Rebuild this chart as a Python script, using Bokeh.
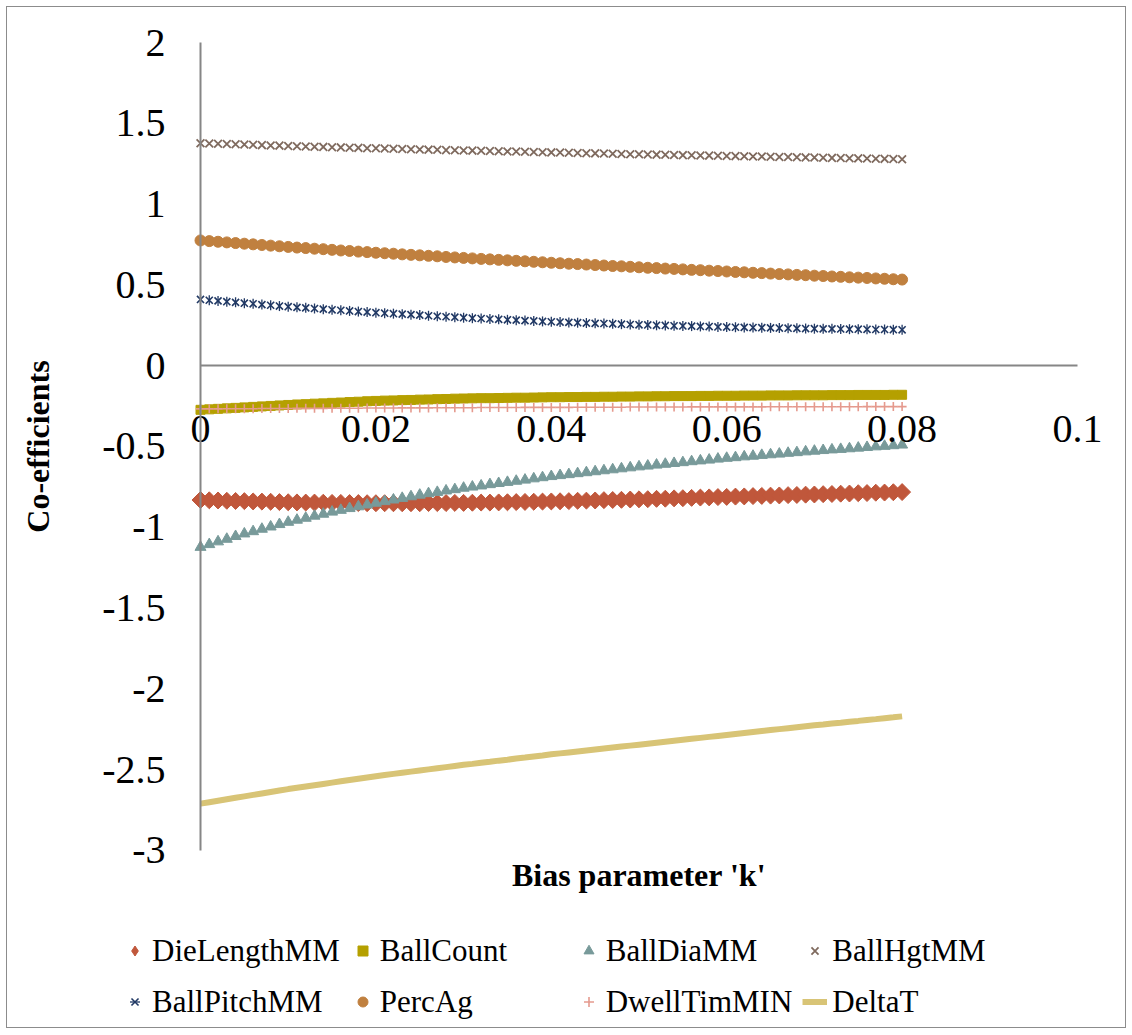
import math
from bokeh.plotting import figure
from bokeh.models import Range1d, FixedTicker, LinearAxis, Legend, LegendItem
from bokeh.embed import file_html
from bokeh.resources import INLINE

# ---------------- data ----------------
K_STEP = 0.001
k = [round(i * K_STEP, 3) for i in range(81)]

die_length = [
    -0.831, -0.833, -0.834, -0.836, -0.837, -0.838, -0.840, -0.841, -0.842, -0.844,
    -0.845, -0.846, -0.847, -0.847, -0.848, -0.849, -0.849, -0.850, -0.850, -0.851,
    -0.851, -0.851, -0.851, -0.851, -0.851, -0.851, -0.850, -0.850, -0.850, -0.849,
    -0.849, -0.848, -0.847, -0.847, -0.846, -0.845, -0.844, -0.843, -0.842, -0.841,
    -0.840, -0.839, -0.838, -0.836, -0.835, -0.834, -0.832, -0.831, -0.830, -0.828,
    -0.827, -0.826, -0.824, -0.823, -0.821, -0.820, -0.818, -0.816, -0.815, -0.813,
    -0.812, -0.810, -0.809, -0.807, -0.806, -0.804, -0.803, -0.801, -0.800, -0.798,
    -0.797, -0.795, -0.794, -0.792, -0.791, -0.789, -0.788, -0.786, -0.785, -0.783, -0.782]

ball_count = [
    -0.273, -0.270, -0.267, -0.264, -0.261, -0.258, -0.255, -0.252, -0.249, -0.246,
    -0.243, -0.240, -0.238, -0.235, -0.233, -0.230, -0.228, -0.225, -0.223, -0.220,
    -0.218, -0.216, -0.215, -0.213, -0.212, -0.210, -0.209, -0.207, -0.206, -0.204,
    -0.203, -0.202, -0.201, -0.201, -0.200, -0.199, -0.198, -0.198, -0.197, -0.196,
    -0.195, -0.195, -0.194, -0.194, -0.193, -0.193, -0.192, -0.192, -0.191, -0.191,
    -0.190, -0.190, -0.189, -0.189, -0.188, -0.188, -0.188, -0.187, -0.187, -0.186,
    -0.186, -0.186, -0.185, -0.185, -0.185, -0.184, -0.184, -0.184, -0.183, -0.183,
    -0.183, -0.183, -0.182, -0.182, -0.182, -0.181, -0.181, -0.181, -0.181, -0.180, -0.180]

ball_dia = [
    -1.123, -1.106, -1.089, -1.073, -1.056, -1.040, -1.026, -1.011, -0.997, -0.982,
    -0.968, -0.955, -0.943, -0.930, -0.918, -0.905, -0.894, -0.883, -0.872, -0.861,
    -0.850, -0.840, -0.830, -0.820, -0.810, -0.800, -0.791, -0.783, -0.774, -0.766,
    -0.757, -0.750, -0.743, -0.735, -0.728, -0.721, -0.714, -0.707, -0.699, -0.692,
    -0.685, -0.679, -0.673, -0.667, -0.661, -0.655, -0.649, -0.643, -0.637, -0.631,
    -0.625, -0.620, -0.614, -0.609, -0.604, -0.599, -0.593, -0.588, -0.583, -0.577,
    -0.572, -0.568, -0.563, -0.559, -0.554, -0.550, -0.546, -0.541, -0.537, -0.532,
    -0.528, -0.524, -0.520, -0.517, -0.513, -0.509, -0.505, -0.501, -0.498, -0.494, -0.490]

ball_hgt = [
    1.377, 1.375, 1.374, 1.372, 1.370, 1.369, 1.367, 1.365, 1.363, 1.362,
    1.360, 1.358, 1.357, 1.355, 1.354, 1.352, 1.351, 1.349, 1.348, 1.346,
    1.345, 1.344, 1.342, 1.341, 1.340, 1.338, 1.337, 1.336, 1.334, 1.333,
    1.332, 1.331, 1.330, 1.328, 1.327, 1.326, 1.325, 1.324, 1.322, 1.321,
    1.320, 1.319, 1.318, 1.316, 1.315, 1.314, 1.313, 1.312, 1.310, 1.309,
    1.308, 1.307, 1.306, 1.305, 1.304, 1.303, 1.302, 1.301, 1.300, 1.299,
    1.298, 1.297, 1.296, 1.295, 1.294, 1.293, 1.292, 1.291, 1.290, 1.289,
    1.288, 1.287, 1.286, 1.285, 1.284, 1.283, 1.282, 1.281, 1.280, 1.279, 1.278]

ball_pitch = [
    0.410, 0.405, 0.401, 0.396, 0.392, 0.387, 0.383, 0.378, 0.374, 0.369,
    0.365, 0.361, 0.358, 0.354, 0.350, 0.346, 0.343, 0.339, 0.335, 0.332,
    0.328, 0.325, 0.322, 0.319, 0.316, 0.313, 0.309, 0.306, 0.303, 0.300,
    0.297, 0.294, 0.292, 0.289, 0.287, 0.284, 0.282, 0.279, 0.277, 0.274,
    0.272, 0.270, 0.268, 0.266, 0.264, 0.262, 0.261, 0.259, 0.257, 0.255,
    0.253, 0.252, 0.250, 0.249, 0.247, 0.246, 0.245, 0.243, 0.242, 0.240,
    0.239, 0.238, 0.237, 0.236, 0.235, 0.234, 0.233, 0.232, 0.231, 0.230,
    0.229, 0.228, 0.228, 0.227, 0.226, 0.226, 0.225, 0.224, 0.224, 0.223, 0.222]

perc_ag = [
    0.775, 0.771, 0.767, 0.763, 0.759, 0.755, 0.751, 0.747, 0.743, 0.739,
    0.735, 0.731, 0.728, 0.724, 0.721, 0.717, 0.713, 0.710, 0.706, 0.703,
    0.699, 0.696, 0.693, 0.689, 0.686, 0.683, 0.680, 0.677, 0.673, 0.670,
    0.667, 0.664, 0.661, 0.658, 0.655, 0.652, 0.649, 0.646, 0.643, 0.640,
    0.637, 0.634, 0.631, 0.629, 0.626, 0.623, 0.620, 0.617, 0.615, 0.612,
    0.609, 0.606, 0.604, 0.601, 0.599, 0.596, 0.593, 0.591, 0.588, 0.586,
    0.583, 0.580, 0.578, 0.575, 0.573, 0.570, 0.567, 0.565, 0.562, 0.560,
    0.557, 0.555, 0.552, 0.550, 0.547, 0.545, 0.543, 0.540, 0.538, 0.535, 0.533]

dwell_tim = [
    -0.267, -0.267, -0.267, -0.266, -0.266, -0.266, -0.266, -0.265, -0.265, -0.265,
    -0.265, -0.264, -0.264, -0.264, -0.264, -0.263, -0.263, -0.263, -0.263, -0.262,
    -0.262, -0.262, -0.262, -0.261, -0.261, -0.261, -0.261, -0.260, -0.260, -0.260,
    -0.260, -0.260, -0.259, -0.259, -0.259, -0.259, -0.259, -0.258, -0.258, -0.258,
    -0.258, -0.258, -0.258, -0.257, -0.257, -0.257, -0.257, -0.257, -0.257, -0.256,
    -0.256, -0.256, -0.256, -0.256, -0.256, -0.256, -0.255, -0.255, -0.255, -0.255,
    -0.255, -0.255, -0.255, -0.255, -0.255, -0.254, -0.254, -0.254, -0.254, -0.254,
    -0.254, -0.254, -0.254, -0.254, -0.254, -0.254, -0.253, -0.253, -0.253, -0.253, -0.253]

delta_t = [
    -2.710, -2.701, -2.692, -2.683, -2.674, -2.665, -2.656, -2.647, -2.638, -2.629,
    -2.620, -2.612, -2.604, -2.596, -2.588, -2.580, -2.572, -2.564, -2.556, -2.548,
    -2.540, -2.533, -2.526, -2.519, -2.512, -2.505, -2.498, -2.491, -2.484, -2.477,
    -2.470, -2.464, -2.457, -2.451, -2.444, -2.438, -2.431, -2.425, -2.418, -2.412,
    -2.405, -2.399, -2.393, -2.387, -2.381, -2.375, -2.369, -2.363, -2.357, -2.351,
    -2.345, -2.339, -2.333, -2.327, -2.321, -2.315, -2.309, -2.303, -2.297, -2.291,
    -2.285, -2.279, -2.273, -2.267, -2.261, -2.255, -2.249, -2.243, -2.237, -2.231,
    -2.225, -2.220, -2.214, -2.209, -2.203, -2.198, -2.192, -2.187, -2.181, -2.176, -2.170]

x_ticks = [0, 0.02, 0.04, 0.06, 0.08, 0.1]
x_tick_labels = ["0", "0.02", "0.04", "0.06", "0.08", "0.1"]
y_ticks = [-3, -2.5, -2, -1.5, -1, -0.5, 0, 0.5, 1, 1.5, 2]
y_tick_labels = ["-3", "-2.5", "-2", "-1.5", "-1", "-0.5", "0", "0.5", "1", "1.5", "2"]

# ---------------- figure ----------------
FONT = "Liberation Serif"
AXIS_GRAY = "#868686"

# the plot frame is extended beyond the axes so that the axes' labels and
# the legend (drawn inside the frame) are not clipped
p = figure(width=1120, height=1022, output_backend="svg", toolbar_location=None,
           x_range=Range1d(-0.022007, 0.104561), y_range=Range1d(-4.0644, 2.1052),
           min_border_left=0, min_border_right=10, min_border_top=18,
           min_border_bottom=7)
p.grid.visible = False
p.outline_line_color = None
p.styles = {"border": "1px solid #8c8c8c", "margin-left": "6px", "margin-top": "6px"}

# left axis: only carries the title, centred on the -3..2 span
ytitle = p.yaxis[0]
ytitle.fixed_location = -0.012885
ytitle.bounds = (-3, 2)
ytitle.ticker = FixedTicker(ticks=[])
ytitle.axis_line_color = None
ytitle.major_tick_line_color = None
ytitle.minor_tick_line_color = None
ytitle.axis_label = "Co-efficients"
ytitle.axis_label_text_font = FONT
ytitle.axis_label_text_font_style = "bold"
ytitle.axis_label_text_font_size = "32px"
ytitle.axis_label_text_color = "black"
ytitle.axis_label_standoff = 32

# y axis with ticks, crossing at x = 0
ya = LinearAxis(fixed_location=0, bounds=(-3, 2), ticker=FixedTicker(ticks=y_ticks))
ya.major_label_overrides = dict(zip(y_ticks, y_tick_labels))
ya.major_tick_line_color = None
ya.minor_tick_line_color = None
ya.axis_line_color = AXIS_GRAY
ya.axis_line_width = 2
ya.major_label_text_font = FONT
ya.major_label_text_font_size = "40px"
ya.major_label_text_color = "black"
ya.major_label_standoff = 29
p.add_layout(ya, "left")

# x axis with ticks, crossing at y = 0
xa = p.xaxis[0]
xa.fixed_location = 0
xa.bounds = (0, 0.1)
xa.ticker = FixedTicker(ticks=x_ticks)
xa.major_label_overrides = dict(zip(x_ticks, x_tick_labels))
xa.major_tick_line_color = None
xa.minor_tick_line_color = None
xa.axis_line_color = AXIS_GRAY
xa.axis_line_width = 2
xa.major_label_text_font = FONT
xa.major_label_text_font_size = "40px"
xa.major_label_text_color = "black"
xa.major_label_standoff = 44

# x title at the bottom of the value range
xtitle = LinearAxis(fixed_location=-3, bounds=(0, 0.1), ticker=FixedTicker(ticks=[]),
                    axis_label="Bias parameter 'k'", axis_line_color=None,
                    major_tick_line_color=None, minor_tick_line_color=None,
                    axis_label_standoff=6, axis_label_text_font=FONT,
                    axis_label_text_font_style="bold", axis_label_text_font_size="32px",
                    axis_label_text_color="black")
p.add_layout(xtitle, "below")

# ---------------- series ----------------
DIE_C, CNT_C, DIA_C, HGT_C = "#c0573b", "#b5a000", "#789a9a", "#7f6a5e"
PIT_C, AG_C, DW_C, DT_C = "#203864", "#c0803f", "#e59a8e", "#d8c476"

# diamond markers (used for the legend entry), covered by the wider rotated squares
r_die_leg = p.scatter(k, die_length, marker="diamond", size=12,
                      fill_color=DIE_C, line_color=DIE_C)
r_die = p.scatter(k, die_length, marker="square", angle=math.pi / 4, size=12,
                  fill_color=DIE_C, line_color=DIE_C)
r_cnt = p.scatter(k, ball_count, marker="square", size=9,
                  fill_color=CNT_C, line_color=CNT_C)
r_dia = p.scatter(k, ball_dia, marker="triangle", size=11,
                  fill_color=DIA_C, line_color=DIA_C)
r_hgt = p.scatter(k, ball_hgt, marker="x", size=11, line_width=1.8,
                  line_color=HGT_C)
r_pit1 = p.scatter(k, ball_pitch, marker="x", size=10, line_width=1.6,
                   line_color=PIT_C)
r_pit2 = p.scatter(k, ball_pitch, marker="dash", angle=math.pi / 2, size=10,
                   line_width=1.3, line_color=PIT_C)
r_ag = p.scatter(k, perc_ag, marker="circle", size=11,
                 fill_color=AG_C, line_color=AG_C)
r_dw = p.scatter(k, dwell_tim, marker="cross", size=9, line_width=1.6,
                 line_color=DW_C)
r_dt = p.line(k, delta_t, line_width=6, line_color=DT_C)

legend = Legend(items=[
    LegendItem(label="DieLengthMM", renderers=[r_die_leg]),
    LegendItem(label="BallCount", renderers=[r_cnt]),
    LegendItem(label="BallDiaMM", renderers=[r_dia]),
    LegendItem(label="BallHgtMM", renderers=[r_hgt]),
    LegendItem(label="BallPitchMM", renderers=[r_pit1, r_pit2]),
    LegendItem(label="PercAg", renderers=[r_ag]),
    LegendItem(label="DwellTimMIN", renderers=[r_dw]),
    LegendItem(label="DeltaT", renderers=[r_dt]),
], orientation="horizontal", ncols=4, location=(115, 0))
legend.label_text_font = FONT
legend.label_text_font_size = "31px"
legend.label_text_color = "black"
legend.border_line_color = None
legend.background_fill_alpha = 0
legend.padding = 0
legend.margin = 0
legend.spacing = 10
legend.glyph_width = 25
legend.glyph_height = 41
legend.label_standoff = 5
legend.label_width = 186
legend.label_height = 41
p.add_layout(legend)

open("out.html", "w").write(file_html(p, INLINE))
